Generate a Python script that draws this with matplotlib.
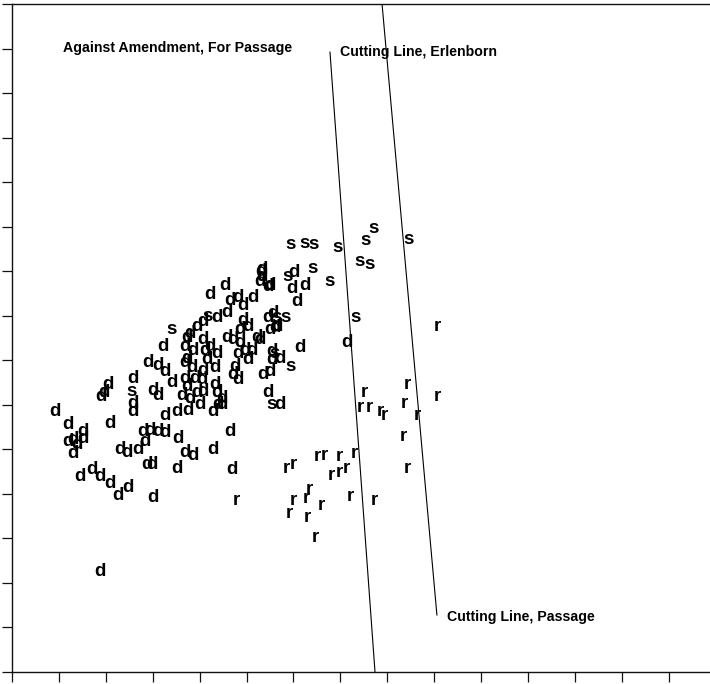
import matplotlib
matplotlib.use("Agg")
import matplotlib.pyplot as plt
from matplotlib import font_manager

# ---- data (arbitrary scale units, axes 0..15) ----
d_x = [0.92, 1.19, 1.19, 1.30, 1.39, 1.51, 1.51, 1.30, 1.45, 1.71, 1.88, 2.09, 2.26, 2.47,
       2.05, 1.90, 1.96, 2.09, 1.88, 2.58, 2.58, 2.58, 2.30, 2.45, 2.69, 2.79, 2.94, 3.11,
       3.26, 2.84, 2.88, 2.99, 3.01, 3.26, 3.52, 3.75, 3.54, 3.52, 3.69, 3.86, 4.29, 4.65,
       4.69, 2.90, 3.11, 3.26, 3.22, 3.01, 3.11, 3.41, 3.69, 3.73, 3.80, 3.94, 4.07, 4.05,
       4.33, 4.37, 4.48, 4.48, 4.22, 4.54, 4.65, 4.82, 4.93, 5.14, 5.33, 5.29, 5.46, 4.58,
       4.37, 4.07, 3.94, 3.80, 3.73, 3.69, 3.73, 3.69, 3.84, 3.86, 4.07, 4.22, 4.16, 4.37,
       4.58, 4.71, 4.86, 4.93, 5.03, 4.97, 4.82, 4.75, 4.71, 4.82, 5.03, 5.12, 5.29, 5.35,
       5.50, 5.54, 5.54, 5.46, 5.50, 5.61, 5.71, 6.14, 7.14, 5.97, 6.25, 6.08, 6.01, 5.50,
       5.57, 5.65, 5.71, 5.46, 5.22, 4.29, 3.90, 3.62, 4.01, 4.33, 4.39, 5.33, 4.86, 4.12,
       4.07, 5.31]
d_y = [5.84, 5.55, 5.17, 5.21, 5.10, 5.41, 5.25, 4.90, 4.38, 4.54, 4.40, 4.24, 3.97, 4.15,
       6.45, 6.18, 6.27, 5.59, 2.25, 6.60, 6.04, 5.84, 4.99, 4.94, 4.99, 5.39, 5.43, 5.39,
       5.37, 5.17, 4.65, 4.65, 3.91, 5.77, 5.84, 5.88, 5.25, 4.58, 4.92, 4.87, 4.99, 5.39,
       4.54, 6.96, 6.89, 6.74, 7.30, 6.33, 6.22, 6.49, 6.60, 6.40, 6.15, 6.27, 6.29, 6.56,
       6.45, 6.27, 6.15, 6.00, 8.47, 8.69, 8.35, 8.40, 8.24, 8.42, 9.03, 8.76, 8.65, 8.08,
       7.95, 7.86, 7.75, 7.61, 7.52, 7.30, 7.05, 6.94, 6.83, 7.23, 7.46, 7.30, 7.01, 7.16,
       7.50, 7.46, 7.68, 7.90, 7.75, 7.23, 7.16, 6.85, 6.67, 6.56, 7.01, 7.23, 7.46, 6.67,
       6.74, 7.01, 7.19, 7.95, 7.68, 7.73, 7.05, 7.28, 7.39, 8.62, 8.69, 8.31, 8.96, 8.69,
       8.06, 7.75, 6.00, 6.27, 7.50, 5.84, 6.60, 6.22, 6.00, 6.83, 6.00, 8.87, 7.41, 7.23,
       6.78, 8.99]

s_x = [5.93, 6.23, 6.44, 6.95, 7.72, 7.53, 8.46, 7.42, 7.63, 6.40, 6.78, 5.88, 7.33,
       5.65, 5.84, 3.41, 4.16, 5.93, 2.56, 5.54, 5.59]
s_y = [9.61, 9.63, 9.61, 9.54, 9.97, 9.70, 9.72, 9.21, 9.14, 9.05, 8.76, 8.89, 7.95,
       7.95, 7.95, 7.70, 7.99, 6.85, 6.29, 6.00, 7.16]

r_x = [7.51, 7.42, 7.63, 7.85, 7.95, 8.44, 8.36, 8.64, 9.06, 9.08, 8.34, 8.44, 7.31, 6.97,
       6.52, 6.65, 7.12, 6.97, 6.80, 6.01, 5.86, 7.21, 7.72, 6.33, 6.27, 6.01, 6.59, 5.91,
       6.29, 6.46, 4.78]
r_y = [6.27, 5.95, 5.93, 5.84, 5.77, 6.45, 6.04, 5.77, 6.18, 7.75, 5.28, 4.58, 4.90, 4.83,
       4.85, 4.87, 4.58, 4.47, 4.42, 4.67, 4.56, 3.95, 3.84, 4.09, 3.89, 3.86, 3.73, 3.57,
       3.48, 3.03, 3.86]

erlenborn_x = [6.78, 7.74]
erlenborn_y = [13.92, 0.0]
passage_x = [7.89, 9.06]
passage_y = [15.0, 1.28]

labels = [
    ("Against Amendment, For Passage", 1.09, 14.01),
    ("Cutting Line, Erlenborn", 6.99, 13.92),
    ("Cutting Line, Passage", 9.28, 1.24),
]

# ---- fonts ----
names = {f.name for f in font_manager.fontManager.ttflist}
if 'Liberation Sans Narrow' in names:
    fam = ['Liberation Sans Narrow', 'DejaVu Sans']
    label_size = 12
else:
    fam = ['Liberation Sans', 'DejaVu Sans']
    label_size = 10.2
plt.rcParams['font.family'] = fam

W, H = 710, 684
fig = plt.figure(figsize=(W / 100, H / 100), dpi=100)
ax = fig.add_axes([12 / W, 12 / H, 15 * 46.9 / W, 668 / H])
ax.set_xlim(0, 15)
ax.set_ylim(0, 15)

for sp in ['left', 'bottom', 'top']:
    ax.spines[sp].set_linewidth(1.0)
    ax.spines[sp].set_color('#111111')
ax.spines['right'].set_visible(False)

ax.set_xticks(range(0, 15))
ax.set_yticks(range(0, 16))
ax.tick_params(axis='both', direction='out', length=7.5, width=0.9, color='#111111',
               labelbottom=False, labelleft=False)

mk = dict(ha='center', va='center', fontsize=13.5, fontweight='bold', color='black')
for x, y in zip(d_x, d_y):
    ax.text(x, y, 'd', **mk)
for x, y in zip(s_x, s_y):
    ax.text(x, y, 's', **mk)
for x, y in zip(r_x, r_y):
    ax.text(x, y, 'r', **mk)

ax.plot(erlenborn_x, erlenborn_y, color='black', lw=0.8, clip_on=True)
ax.plot(passage_x, passage_y, color='black', lw=0.8, clip_on=True)

for txt, x, y in labels:
    ax.text(x, y, txt, ha='left', va='center', fontsize=label_size, fontweight='bold',
            color='black')

fig.savefig('out.png', dpi=100)
